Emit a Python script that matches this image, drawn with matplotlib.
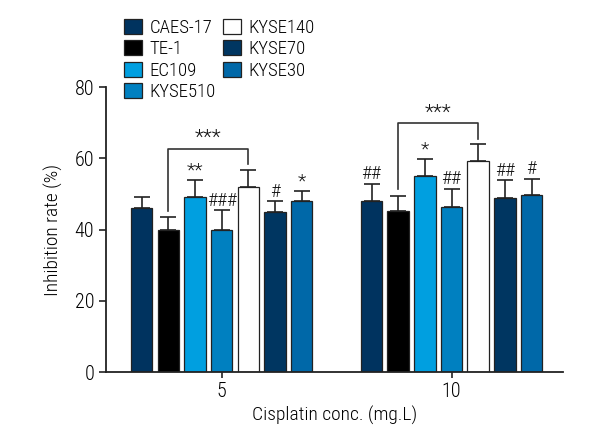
import matplotlib
matplotlib.use("Agg")
import matplotlib.pyplot as plt
import numpy as np
import logging
logging.getLogger("matplotlib.font_manager").setLevel(logging.ERROR)

plt.rcParams['font.family'] = ['Roboto Condensed', 'Open Sans Condensed', 'DejaVu Sans']
plt.rcParams['font.weight'] = 'light'
plt.rcParams['axes.labelweight'] = 'light'

# ---- data ----
concentrations = ["5", "10"]
cell_lines = ["CAES-17", "TE-1", "EC109", "KYSE510", "KYSE140", "KYSE70", "KYSE30"]
colors = ["#00335f", "#000000", "#009fe0", "#0080c0", "#ffffff", "#003661", "#0068a8"]
means_5 = [46, 40, 49, 40, 52, 45, 48]
errs_5 = [3.0, 3.5, 4.8, 5.4, 4.7, 2.9, 2.8]
means_10 = [48, 45.3, 55, 46.3, 59.3, 48.8, 49.8]
errs_10 = [4.9, 4.2, 4.9, 5.2, 4.6, 5.0, 4.5]
marks_5 = ["", "", "**", "###", "", "#", "*"]
marks_10 = ["##", "", "*", "##", "", "##", "#"]
bracket_label = "***"
yticks = [0, 20, 40, 60, 80]

means = np.array([means_5, means_10])
errs = np.array([errs_5, errs_10])
marks = [marks_5, marks_10]

fig = plt.figure(figsize=(6, 4.4), dpi=100)
ax = fig.add_axes([0.1767, 0.1545, 0.7613, 0.6477])

pitch = 0.116
width = 0.0935
centers = np.arange(len(concentrations))
offsets = (np.arange(len(cell_lines)) - 3) * pitch

for j, name in enumerate(cell_lines):
    x = centers + offsets[j]
    ax.bar(x, means[:, j], width=width, color=colors[j], edgecolor="#222222",
           linewidth=0.9, label=name, zorder=2)
    ax.errorbar(x, means[:, j], yerr=[np.zeros(2), errs[:, j]], fmt="none",
                ecolor="#222222", elinewidth=1.2, capsize=5.5, capthick=1.2, zorder=3)
    for g in range(len(concentrations)):
        if marks[g][j]:
            ax.text(x[g], means[g, j] + errs[g, j] + 0.1, marks[g][j], ha="center",
                    va="bottom", fontsize=14, color="#111111")

# brackets between TE-1 and KYSE140
for g in range(len(concentrations)):
    x1 = centers[g] + offsets[1]
    x2 = centers[g] + offsets[4]
    y1 = means[g, 1] + errs[g, 1] + 1.8
    y2 = means[g, 4] + errs[g, 4] + 1.6
    top = max(y1, y2) + 4.3
    ax.plot([x1, x1, x2, x2], [y1, top, top, y2], color="#333333", lw=1.2, zorder=3)
    ax.text((x1 + x2) / 2, top + 0.2, bracket_label, ha="center", va="bottom",
            fontsize=15, color="#111111")

ax.set_xlim(-0.503, 1.484)
ax.set_ylim(0, 80)
ax.set_yticks(yticks)
ax.set_xticks(centers)
ax.set_xticklabels(concentrations)
ax.tick_params(axis="both", labelsize=14.5, width=1.2, length=5, color="#222222")
ax.tick_params(axis="x", length=4)
for s in ["top", "right"]:
    ax.spines[s].set_visible(False)
for s in ["left", "bottom"]:
    ax.spines[s].set_linewidth(1.3)
    ax.spines[s].set_color("#222222")
ax.set_ylabel("Inhibition rate (%)", fontsize=14, labelpad=8)
ax.set_xlabel("Cisplatin conc. (mg.L)", fontsize=14, labelpad=3)

leg = fig.legend(loc="upper left", bbox_to_anchor=(0.207, 0.957), ncol=2,
                 frameon=False, fontsize=13.5, handlelength=0.95, handleheight=0.85,
                 handletextpad=0.4, columnspacing=0.4, labelspacing=0.18,
                 borderaxespad=0, borderpad=0)
fig.savefig("out.png", dpi=100)
